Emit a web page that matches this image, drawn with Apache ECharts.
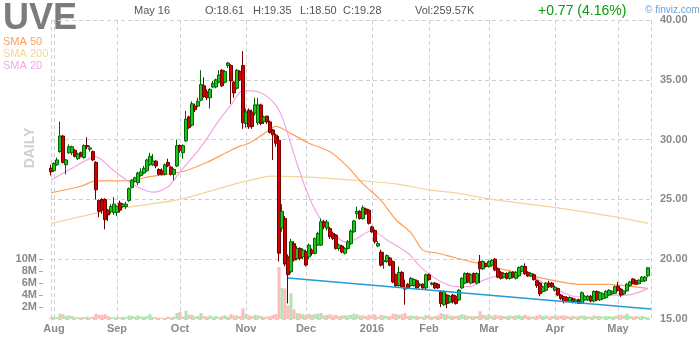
<!DOCTYPE html>
<html>
<head>
<meta charset="utf-8">
<script src="https://cdn.jsdelivr.net/npm/echarts@6/dist/echarts.min.js"></script>
<style>
  html, body { margin: 0; padding: 0; background: #ffffff; }
  #chart { width: 700px; height: 340px; }
</style>
</head>
<body>
<div id="chart"></div>
<script>
// UVE daily candles, 2015-07-31 .. 2016-05-16 (one entry per trading day)
const opens = [
  27.6,27.4,27.9,29.0,30.3,27.9,28.9,28.9,29.1,28.4,
  28.9,28.5,29.5,29.2,29.0,28.1,24.9,25.0,25.0,24.1,
  24.0,23.9,23.9,24.7,24.4,24.4,24.9,26.0,26.5,26.4,
  27.0,27.2,27.4,27.9,27.9,28.2,27.5,27.4,27.1,28.1,
  27.7,27.1,27.8,29.5,28.9,29.9,31.9,31.2,32.8,32.8,
  33.3,34.5,34.0,33.5,34.4,34.4,34.8,35.8,34.8,36.2,
  36.2,34.8,34.3,35.7,36.2,31.35,32.46,32.3,32.2,31.4,
  32.9,31.5,31.96,31.48,30.8,30.37,29.95,22.6,23.4,20.2,
  18.95,21.3,20.07,20.9,20.2,20.62,20.2,20.76,20.49,21.18,
  21.18,23.13,22.6,22.57,22.16,22.02,20.9,21.1,20.5,20.9,
  21.3,22.3,23.8,24.0,23.4,24.2,24.1,22.7,22.4,21.1,
  20.6,19.8,19.8,20.1,19.8,18.7,17.8,18.9,17.6,17.9,
  17.8,17.8,18.2,17.8,17.9,17.6,18.7,17.9,18.0,17.9,
  17.3,16.2,17.0,16.4,17.0,16.9,16.6,17.6,18.0,18.8,
  18.0,18.8,18.0,19.8,19.2,19.65,19.4,19.5,20.0,19.2,
  18.9,18.5,18.8,18.4,18.9,18.4,18.6,19.0,19.4,18.9,
  18.6,18.7,18.2,18.0,17.3,17.4,18.0,18.0,17.4,17.56,
  17.0,16.87,16.8,16.5,16.7,16.4,16.6,16.35,16.6,16.6,
  16.9,16.5,17.3,16.6,16.7,16.8,17.0,17.1,17.15,17.76,
  17.5,17.1,17.35,17.8,18.35,18.2,17.95,18.15,18.2,18.61
];
const highs = [
  27.9,28.1,28.5,31.5,30.4,28.4,29.6,29.5,29.2,28.9,
  29.0,29.6,30.2,29.5,29.1,28.2,25.0,25.1,25.1,24.2,
  24.6,25.2,24.5,24.9,24.7,24.8,26.0,26.7,26.9,27.3,
  27.6,27.8,28.4,28.9,28.8,28.3,27.6,27.6,28.0,28.4,
  27.8,27.6,30.0,29.6,29.6,32.4,32.0,33.2,33.0,33.5,
  35.8,35.2,34.2,34.3,34.9,35.1,35.8,35.9,35.8,36.5,
  36.3,34.9,35.9,35.8,37.4,32.6,32.6,32.5,33.5,33.5,
  33.0,32.0,32.0,31.6,30.9,30.5,30.3,24.6,23.6,20.4,
  21.7,21.5,21.1,21.0,20.9,20.8,21.3,20.9,21.8,22.3,
  23.4,23.3,23.3,22.7,22.3,22.1,21.3,21.2,21.0,21.6,
  22.5,23.3,24.4,24.1,24.5,24.3,24.2,22.8,22.5,21.5,
  20.8,20.6,20.4,20.2,19.9,18.8,19.4,19.0,18.3,18.0,
  18.5,18.4,18.3,18.0,18.0,18.8,18.8,18.1,18.1,18.0,
  17.4,17.4,17.1,17.0,17.1,17.0,17.5,18.5,18.9,18.9,
  18.8,18.9,18.9,20.35,19.9,19.7,19.9,20.0,20.1,19.3,
  19.0,18.9,18.9,19.0,19.0,19.0,19.4,19.5,19.65,19.0,
  18.9,18.8,18.3,18.1,17.8,18.1,18.2,18.1,17.8,17.6,
  17.1,16.9,16.9,16.9,16.8,16.7,16.7,17.3,17.0,17.0,
  17.0,17.4,17.4,17.3,17.2,17.4,17.5,17.4,17.8,18.1,
  17.6,17.4,18.0,18.2,18.4,18.3,18.3,18.6,18.6,19.35
];
const lows = [
  27.0,27.3,27.8,28.9,28.0,27.1,28.8,28.7,28.5,28.3,
  28.5,28.4,29.2,29.0,28.2,25.0,23.5,23.8,22.5,23.2,
  23.8,23.7,23.6,23.9,24.3,24.2,24.8,25.9,26.4,26.2,
  26.9,27.1,27.3,27.8,27.8,27.6,27.0,27.0,27.0,27.7,
  27.0,26.6,27.7,28.9,28.4,29.8,30.9,31.1,32.3,32.7,
  33.2,33.5,33.3,32.6,34.3,34.3,34.7,34.4,34.7,36.0,
  33.0,33.5,34.2,34.9,30.9,31.0,30.9,30.9,32.0,31.2,
  31.2,31.3,31.3,30.5,28.3,29.4,19.8,22.3,19.4,16.3,
  18.8,19.8,19.9,19.9,20.0,19.4,20.0,20.3,20.4,21.1,
  21.1,22.5,22.4,21.7,21.6,20.8,20.7,20.5,20.4,20.8,
  21.2,22.2,23.4,23.3,23.3,23.7,22.9,22.2,21.3,21.0,
  19.4,19.2,19.7,19.4,18.0,17.6,17.7,17.6,16.2,17.5,
  17.7,17.7,17.5,17.7,17.5,17.5,18.2,17.8,17.5,17.5,
  16.0,16.1,15.9,16.3,16.3,16.2,16.5,17.5,17.9,18.0,
  17.9,18.0,17.9,18.0,19.1,19.3,19.3,19.4,19.0,18.4,
  18.3,18.4,18.3,18.3,18.4,18.3,18.5,18.9,18.7,18.5,
  18.5,18.2,17.6,16.9,17.2,17.3,17.6,17.6,17.3,16.9,
  16.6,16.3,16.4,16.4,16.3,16.3,16.25,16.3,16.5,16.5,
  16.4,16.4,16.5,16.5,16.6,16.7,16.9,17.0,17.1,17.3,
  16.85,17.0,17.3,17.7,17.9,17.85,17.9,18.1,18.1,18.50
];
const closes = [
  27.3,28.0,28.3,30.3,28.1,28.3,29.4,29.4,28.6,28.8,
  28.6,29.5,29.4,29.3,28.3,25.8,24.0,24.1,23.3,23.7,
  24.4,24.6,24.4,24.1,24.6,24.6,25.9,26.6,26.8,27.2,
  27.3,27.6,28.3,28.6,28.2,27.8,27.1,27.1,27.9,27.8,
  27.1,27.5,29.5,29.1,29.5,31.7,31.0,33.0,32.5,33.2,
  34.6,33.6,33.5,34.2,34.7,35.0,35.4,34.5,35.7,36.4,
  34.9,33.9,35.8,35.0,31.4,32.3,31.07,31.1,32.9,32.9,
  31.35,31.9,31.48,30.6,30.4,29.7,20.5,24.0,19.6,18.7,
  21.46,19.93,20.9,20.07,20.76,19.51,21.18,20.49,21.74,22.16,
  23.13,22.71,23.1,21.88,21.74,20.9,21.18,20.6,20.9,21.46,
  22.35,23.2,24.0,23.4,24.3,23.8,23.0,22.3,21.46,21.3,
  19.5,19.9,20.3,19.5,18.1,17.8,18.9,17.7,17.5,17.6,
  18.4,18.3,17.6,17.9,17.6,18.7,18.3,18.0,17.6,17.6,
  16.3,17.3,16.3,16.9,16.45,16.3,17.4,18.4,18.8,18.1,
  18.7,18.1,18.8,19.2,19.8,19.4,19.8,19.9,19.1,18.5,
  18.4,18.8,18.4,18.9,18.5,18.9,19.3,19.4,18.8,18.6,
  18.8,18.3,17.8,17.1,17.7,18.0,17.7,17.7,17.65,17.0,
  16.7,16.45,16.5,16.8,16.4,16.6,16.3,17.2,16.9,16.9,
  16.5,17.3,16.6,17.2,17.1,17.3,17.4,17.3,17.7,17.4,
  17.0,17.35,17.9,18.1,17.95,17.9,18.25,18.5,18.51,19.28
];
// daily volume, millions of shares
const volumes = [
  0.3,0.4,0.3,0.9,0.8,0.5,0.6,0.5,0.3,0.3,
  0.3,0.3,0.4,0.3,0.4,0.9,0.7,0.7,0.8,0.5,
  0.3,0.3,0.3,0.3,0.4,0.3,0.6,0.5,0.4,0.6,
  0.4,0.4,0.5,0.8,0.3,0.3,0.2,0.2,0.2,0.4,
  0.3,0.4,1.0,1.2,0.4,1.4,0.7,0.7,0.4,0.5,
  1.0,0.5,0.4,0.6,0.4,0.5,0.3,0.5,0.6,0.4,
  0.8,0.6,0.6,0.5,1.8,0.9,0.6,0.5,0.7,0.6,
  0.5,0.4,0.4,0.5,0.7,0.8,8.7,5.2,5.1,2.3,
  4.3,1.6,1.0,0.9,0.8,0.7,0.9,0.7,0.8,0.9,
  1.0,0.6,0.7,0.8,0.6,0.7,0.5,0.6,0.6,0.6,
  0.7,0.9,0.8,0.6,0.6,0.5,0.7,0.6,0.8,0.4,
  0.7,0.6,0.5,0.5,0.9,0.8,0.7,0.8,1.0,0.5,
  0.6,0.5,0.5,0.4,0.4,0.7,0.5,0.4,0.5,0.6,
  1.0,0.8,0.8,0.6,0.5,0.5,0.6,0.8,0.7,0.5,
  0.5,0.5,0.5,1.3,0.7,0.6,0.8,0.5,0.7,0.6,
  0.6,0.5,0.5,0.6,0.5,0.6,0.7,0.5,0.7,0.5,
  0.4,0.4,0.6,0.7,0.5,0.6,0.4,0.5,0.6,0.5,
  0.6,0.6,0.5,0.4,0.5,0.4,0.5,0.6,0.5,0.4,
  0.4,0.6,0.5,0.5,0.4,0.5,0.5,0.4,0.5,0.6,
  0.7,0.6,0.9,0.5,0.4,0.5,0.4,0.5,0.4,0.26
];
// moving averages, [day index, value]
const sma20 = [[0,26.6],[7,27.6],[15,28.56],[20,27.6],[27,26.3],[34,25.6],[39,26.05],[43,27.3],[50,29.4],[56,31.6],[60,32.9],[64,34.1],[69,34.0],[74,33.15],[77,31.9],[82,28.0],[86,25.2],[90,23.3],[95,21.9],[99,21.4],[102,21.75],[107,22.4],[112,21.6],[119,20.5],[123,19.4],[129,18.26],[135,17.7],[140,17.7],[142,18.0],[147,18.5],[153,18.7],[159,18.8],[164,18.0],[170,17.3],[175,16.86],[181,16.86],[186,17.0],[192,17.0],[199,17.56]];
const sma50 = [[0,25.55],[10,26.1],[15,26.55],[22,26.55],[27,26.6],[33,26.9],[41,27.2],[45,27.4],[52,28.1],[59,28.98],[63,29.45],[66,29.7],[71,30.5],[75,31.1],[80,30.5],[86,29.7],[93,28.98],[99,27.7],[104,26.3],[110,24.9],[115,23.3],[120,22.2],[124,20.76],[129,20.5],[135,20.1],[140,19.8],[147,19.37],[159,18.68],[170,18.1],[176,17.9],[186,17.9],[194,17.7],[199,17.56]];
const sma200 = [[0,23.0],[16,23.9],[27,24.4],[43,25.0],[60,26.2],[63,26.4],[74,26.95],[82,26.9],[93,26.75],[106,26.5],[115,26.3],[126,25.8],[136,25.5],[147,25.0],[170,24.25],[189,23.5],[199,23.0]];
// support trend line, [day index, price]
const trendLine = [[79, 18.43], [200, 15.84]];

const monthNames = { '08': 'Aug', '09': 'Sep', '10': 'Oct', '11': 'Nov', '12': 'Dec', '01': '2016', '02': 'Feb', '03': 'Mar', '04': 'Apr', '05': 'May' };
const holidays = ['2015-09-07', '2015-11-26', '2015-12-25', '2016-01-01', '2016-01-18', '2016-02-15', '2016-03-25'];
const volumeTicks = [2, 4, 6, 8, 10];

// trading-day calendar
const pad = n => (n < 10 ? '0' : '') + n;
const dates = [];
for (let d = new Date(Date.UTC(2015, 6, 31)); dates.length < closes.length; d.setUTCDate(d.getUTCDate() + 1)) {
  const wd = d.getUTCDay();
  const s = d.getUTCFullYear() + '-' + pad(d.getUTCMonth() + 1) + '-' + pad(d.getUTCDate());
  if (wd === 0 || wd === 6 || holidays.includes(s)) continue;
  dates.push(s);
}
const categories = dates.concat(['']);
const monthStart = categories.map((s, i) => i > 0 && s !== '' && s.slice(5, 7) !== categories[i - 1].slice(5, 7));

const UP = '#1cc41c', UP_EDGE = '#006400';
const DOWN = '#d20000', DOWN_EDGE = '#700000';

const candleData = opens.map((o, i) => [o, closes[i], lows[i], highs[i]]);
const volumeData = volumes.map((v, i) => ({
  value: v,
  itemStyle: { color: closes[i] >= opens[i] ? '#b3e2b3' : '#fbbcbc' }
}));

const gray = '#8a8a8a';
const dash = { color: '#cfcfcf', type: [4, 3], width: 1 };
const FONT = '"Liberation Sans", Arial, sans-serif';
const head = (x, text) => ({ type: 'text', x, y: 11, style: { text, font: '11px ' + FONT, fill: '#555555', verticalAlign: 'middle' } });

const chart = echarts.init(document.getElementById('chart'), null, { renderer: 'canvas' });
chart.setOption({
  animation: false,
  backgroundColor: '#ffffff',
  grid: { left: 51, right: 49, top: 20, bottom: 21, containLabel: false },
  xAxis: {
    type: 'category',
    data: categories,
    boundaryGap: false,
    axisLine: { show: false },
    axisTick: { show: false },
    axisLabel: {
      interval: (i) => monthStart[i],
      formatter: (v) => monthNames[v.slice(5, 7)],
      color: gray, fontSize: 11, fontWeight: 'bold', fontFamily: FONT,
      margin: 4, hideOverlap: false
    },
    splitLine: { show: true, interval: (i) => i === 0 || i === categories.length - 1 || monthStart[i], lineStyle: dash }
  },
  yAxis: [
    {
      type: 'value', position: 'right', min: 15, max: 40, interval: 5,
      axisLine: { show: false }, axisTick: { show: false },
      axisLabel: { formatter: v => v.toFixed(2), color: gray, fontSize: 11, fontWeight: 'bold', fontFamily: FONT, margin: 9 },
      splitLine: { show: true, lineStyle: dash }
    },
    {
      type: 'value', position: 'left', min: 0, max: 50, offset: 8,
      axisLine: { show: false },
      axisTick: { show: true, customValues: volumeTicks, length: 4, lineStyle: { color: '#aaaaaa' } },
      axisLabel: { customValues: volumeTicks, formatter: v => v + 'M', color: gray, fontSize: 11, fontWeight: 'bold', fontFamily: FONT, margin: 6 },
      splitLine: { show: false }
    }
  ],
  series: [
    {
      name: 'Volume', type: 'bar', xAxisIndex: 0, yAxisIndex: 1,
      data: volumeData, barWidth: 3, barGap: '0%', z: 1, silent: true
    },
    {
      name: 'SMA 200', type: 'line', yAxisIndex: 0, data: sma200, symbol: 'none', smooth: 0.3,
      lineStyle: { color: '#f3d59c', width: 1.2 }, z: 2, silent: true
    },
    {
      name: 'SMA 50', type: 'line', yAxisIndex: 0, data: sma50, symbol: 'none', smooth: 0.3,
      lineStyle: { color: '#ff9f5a', width: 1.2 }, z: 2, silent: true
    },
    {
      name: 'SMA 20', type: 'line', yAxisIndex: 0, data: sma20, symbol: 'none', smooth: 0.3,
      lineStyle: { color: '#f4a6e4', width: 1.2 }, z: 2, silent: true
    },
    {
      name: 'UVE', type: 'candlestick', yAxisIndex: 0, data: candleData,
      barWidth: 2.6, clip: false, z: 4,
      itemStyle: { color: UP, color0: DOWN, borderColor: UP_EDGE, borderColor0: DOWN_EDGE, borderWidth: 1 },
      markLine: {
        silent: true, symbol: ['none', 'none'],
        lineStyle: { opacity: 0 },
        data: [{ yAxis: closes[closes.length - 1] }],
        label: {
          position: 'end', distance: 7,
          formatter: closes[closes.length - 1].toFixed(2),
          backgroundColor: '#ffff00', color: '#222', fontWeight: 'bold', fontSize: 12,
          fontFamily: FONT, padding: [2, 1, 1, 1]
        }
      }
    },
    {
      name: 'Trend', type: 'line', yAxisIndex: 0, data: trendLine, symbol: 'none',
      lineStyle: { color: '#2399d9', width: 1.5 }, z: 5, silent: true
    }
  ],
  graphic: [
    { type: 'text', left: 3, top: 1, style: { text: 'UVE', font: 'bold 36px ' + FONT, fill: '#7c7c7c' } },
    head(134, 'May 16'),
    head(205, 'O:18.61'),
    head(253, 'H:19.35'),
    head(300, 'L:18.50'),
    head(343, 'C:19.28'),
    head(415, 'Vol:259.57K'),
    { type: 'text', x: 538, y: 11, style: { text: '+0.77 (4.16%)', font: '14px ' + FONT, fill: '#0b990b', verticalAlign: 'middle' } },
    { type: 'text', x: 645, y: 10, style: { text: '© finviz.com', font: '10px ' + FONT, fill: '#6aa3d6', verticalAlign: 'middle' } },
    { type: 'text', x: 3, y: 42, style: { text: 'SMA 50', font: '11px ' + FONT, fill: '#ff9f5a', verticalAlign: 'middle' } },
    { type: 'text', x: 3, y: 54, style: { text: 'SMA 200', font: '11px ' + FONT, fill: '#f3d59c', verticalAlign: 'middle' } },
    { type: 'text', x: 3, y: 66, style: { text: 'SMA 20', font: '11px ' + FONT, fill: '#f4a6e4', verticalAlign: 'middle' } },
    { type: 'text', x: 30, y: 148, rotation: Math.PI / 2, style: { text: 'DAILY', font: 'bold 14px ' + FONT, fill: '#cfcfcf', align: 'center', verticalAlign: 'middle' } }
  ]
});
</script>
</body>
</html>
